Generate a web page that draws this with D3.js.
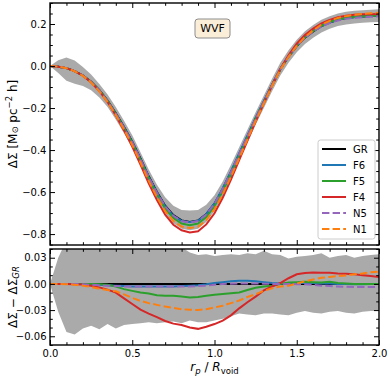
<!DOCTYPE html>
<html>
<head>
<meta charset="utf-8">
<script src="https://cdnjs.cloudflare.com/ajax/libs/d3/7.8.5/d3.min.js"></script>
<style>
  body { margin: 0; background: #fff; }
  text { font-family: "DejaVu Sans", sans-serif; fill: #000; }
</style>
</head>
<body>
<div id="chart"></div>
<script>
//============ Data =========================================
var rp = [0.00, 0.05, 0.10, 0.15, 0.20, 0.25, 0.30, 0.35, 0.40, 0.45,
          0.50, 0.55, 0.60, 0.65, 0.70, 0.75, 0.80, 0.85, 0.90, 0.95,
          1.00, 1.05, 1.10, 1.15, 1.20, 1.25, 1.30, 1.35, 1.40, 1.45,
          1.50, 1.55, 1.60, 1.65, 1.70, 1.75, 1.80, 1.85, 1.90, 1.95, 2.00];

// GR profile (top panel)
var grProfile = [0.000, -0.003, -0.010, -0.024, -0.045, -0.075, -0.115, -0.165, -0.225, -0.290,
                 -0.360, -0.440, -0.525, -0.600, -0.665, -0.710, -0.735, -0.742, -0.735, -0.705,
                 -0.655, -0.585, -0.505, -0.420, -0.335, -0.250, -0.170, -0.090, -0.015, 0.045,
                 0.095, 0.135, 0.165, 0.190, 0.207, 0.220, 0.228, 0.233, 0.236, 0.238, 0.240];

// scatter of GR profile (grey band, top panel), relative to GR
var topBandUpper = [0.000, 0.030, 0.050, 0.050, 0.040, 0.035, 0.030, 0.030, 0.030, 0.030,
                    0.030, 0.030, 0.032, 0.035, 0.040, 0.045, 0.050, 0.054, 0.050, 0.045,
                    0.040, 0.035, 0.035, 0.033, 0.032, 0.030, 0.030, 0.030, 0.030, 0.030,
                    0.030, 0.030, 0.030, 0.030, 0.030, 0.030, 0.030, 0.030, 0.030, 0.030, 0.030];
var topBandLower = [0.000, -0.030, -0.060, -0.060, -0.050, -0.040, -0.035, -0.030, -0.030, -0.030,
                    -0.030, -0.030, -0.030, -0.032, -0.035, -0.038, -0.040, -0.040, -0.040, -0.038,
                    -0.035, -0.032, -0.030, -0.030, -0.030, -0.030, -0.030, -0.030, -0.030, -0.030,
                    -0.030, -0.030, -0.030, -0.030, -0.030, -0.030, -0.030, -0.030, -0.030, -0.030, -0.030];

// scatter of the differences (grey band, bottom panel)
var botBandUpper = [0.000, 0.030, 0.050, 0.055, 0.052, 0.050, 0.052, 0.049, 0.050, 0.048,
                    0.047, 0.046, 0.045, 0.044, 0.045, 0.043, 0.042, 0.036, 0.033, 0.034,
                    0.032, 0.033, 0.034, 0.033, 0.035, 0.034, 0.038, 0.034, 0.033, 0.029,
                    0.031, 0.032, 0.033, 0.035, 0.030, 0.032, 0.033, 0.030, 0.032, 0.033, 0.034];
var botBandLower = [0.000, -0.032, -0.055, -0.058, -0.051, -0.048, -0.052, -0.046, -0.051, -0.047,
                    -0.046, -0.045, -0.044, -0.045, -0.044, -0.043, -0.045, -0.042, -0.044, -0.044,
                    -0.042, -0.040, -0.037, -0.034, -0.035, -0.036, -0.034, -0.034, -0.035, -0.036,
                    -0.033, -0.031, -0.033, -0.034, -0.032, -0.031, -0.033, -0.034, -0.032, -0.031, -0.031];

// differences with respect to GR (bottom panel)
var diffGR = [0, 0, 0, 0, 0, 0, 0, 0, 0, 0, 0, 0, 0, 0, 0, 0, 0, 0, 0, 0, 0,
              0, 0, 0, 0, 0, 0, 0, 0, 0, 0, 0, 0, 0, 0, 0, 0, 0, 0, 0, 0];
var diffF6 = [0, 0, 0, 0, 0, -0.0005, -0.001, -0.0015, -0.002, -0.0025,
              -0.003, -0.003, -0.003, -0.003, -0.003, -0.003, -0.0025, -0.002, -0.0015, -0.0005,
              0.001, 0.002, 0.003, 0.0035, 0.0035, 0.003, 0.002, 0.001, 0.0005, 0.0005,
              0.001, 0.001, 0.001, 0.0005, 0.0005, 0, 0, -0.0005, -0.0005, 0, 0];
var diffF5 = [0, 0, 0, 0, 0, 0, -0.0005, -0.001, -0.003, -0.006,
              -0.008, -0.0098, -0.011, -0.013, -0.0135, -0.0136, -0.0145, -0.0155, -0.015, -0.0136,
              -0.0125, -0.0117, -0.0108, -0.0098, -0.007, -0.0045, -0.003, -0.002, 0, 0.0015,
              0.002, 0.0025, 0.002, 0.0015, 0.0025, 0.001, 0.0005, 0, 0, 0, 0];
var diffF4 = [0, 0, 0, -0.0003, -0.0007, -0.002, -0.004, -0.0065, -0.010, -0.0165,
              -0.023, -0.0295, -0.034, -0.038, -0.0425, -0.0455, -0.047, -0.050, -0.0515, -0.049,
              -0.046, -0.042, -0.036, -0.028, -0.021, -0.0145, -0.0075, -0.003, 0.001, 0.0065,
              0.011, 0.0125, 0.013, 0.0128, 0.0128, 0.012, 0.0115, 0.011, 0.010, 0.009, 0.008];
var diffN5 = [0, 0, 0, 0, -0.0003, -0.001, -0.0015, -0.002, -0.0025, -0.003,
              -0.003, -0.003, -0.003, -0.003, -0.003, -0.003, -0.003, -0.003, -0.0025, -0.002,
              -0.001, 0, 0.0003, 0.0005, 0.0005, 0.0005, 0.0003, 0, 0, 0,
              -0.0003, -0.0005, -0.001, -0.002, -0.0025, -0.003, -0.0033, -0.0035, -0.0035, -0.0035, -0.0035];
var diffN1 = [0, 0, -0.0003, -0.001, -0.002, -0.0035, -0.0055, -0.007, -0.0085, -0.012,
              -0.016, -0.0195, -0.022, -0.024, -0.026, -0.0275, -0.029, -0.0295, -0.030, -0.029,
              -0.027, -0.025, -0.022, -0.019, -0.015, -0.0117, -0.008, -0.005, -0.003, -0.002,
              0.0005, 0.003, 0.005, 0.007, 0.008, 0.009, 0.0095, 0.011, 0.012, 0.0135, 0.014];

var modelNames = ["GR", "F6", "F5", "F4", "N5", "N1"];
var modelDiffs = [diffGR, diffF6, diffF5, diffF4, diffN5, diffN1];

// tick values
var xMajor = [0.0, 0.5, 1.0, 1.5, 2.0];
var xMinor = [0.1, 0.2, 0.3, 0.4, 0.6, 0.7, 0.8, 0.9, 1.1, 1.2, 1.3, 1.4, 1.6, 1.7, 1.8, 1.9];
var yTopMajor = [-0.8, -0.6, -0.4, -0.2, 0.0, 0.2];
var yTopMinor = [-0.85, -0.75, -0.7, -0.65, -0.55, -0.5, -0.45, -0.35, -0.3, -0.25,
                 -0.15, -0.1, -0.05, 0.05, 0.1, 0.15, 0.25, 0.3];
var yBotMajor = [-0.06, -0.03, 0.00, 0.03];
var yBotMinor = [-0.07, -0.05, -0.04, -0.02, -0.01, 0.01, 0.02, 0.04];

//============ Styles =====================
var colors = {GR: "#000000", F6: "#1f77b4", F5: "#2ca02c", F4: "#d62728", N5: "#9467bd", N1: "#ff7f0e"};
var dashes = {GR: null, F6: null, F5: null, F4: null, N5: "7.4,3.2", N1: "7.4,3.2"};

//============ Set up chart =====================
var svgWidth = 390;
var svgHeight = 379;
var xLeft = 50, xRight = 379;
var topY0 = 3, topY1 = 245;
var botY0 = 249, botY1 = 345;

var svg = d3.select("#chart")
  .append("svg")
  .attr("width", svgWidth)
  .attr("height", svgHeight);

var xScale = d3.scaleLinear().domain([0, 2]).range([xLeft, xRight]);
var yTop = d3.scaleLinear().domain([-0.852, 0.3]).range([topY1, topY0]);
var yBot = d3.scaleLinear().domain([-0.07, 0.04]).range([botY1, botY0]);

var defs = svg.append("defs");
defs.append("clipPath").attr("id", "clipTop")
  .append("rect").attr("x", xLeft).attr("y", topY0)
  .attr("width", xRight - xLeft).attr("height", topY1 - topY0);
defs.append("clipPath").attr("id", "clipBot")
  .append("rect").attr("x", xLeft).attr("y", botY0)
  .attr("width", xRight - xLeft).attr("height", botY1 - botY0);

// build rows for each panel
function rowsFor(base, diff) {
  return rp.map(function(r, i) { return {r: r, v: base[i] + diff[i]}; });
}

function drawPanel(clipId, yScale, base, bandLo, bandHi) {
  var g = svg.append("g").attr("clip-path", "url(#" + clipId + ")");

  var bandRows = rp.map(function(r, i) {
    return {r: r, lo: base[i] + bandLo[i], hi: base[i] + bandHi[i]};
  });
  g.append("path")
    .datum(bandRows)
    .attr("fill", "#aaaaaa")
    .attr("stroke", "none")
    .attr("d", d3.area()
      .x(d => xScale(d.r))
      .y0(d => yScale(d.lo))
      .y1(d => yScale(d.hi)));

  var line = d3.line().x(d => xScale(d.r)).y(d => yScale(d.v));

  modelNames.forEach(function(name, k) {
    g.append("path")
      .datum(rowsFor(base, modelDiffs[k]))
      .attr("fill", "none")
      .attr("stroke", colors[name])
      .attr("stroke-width", 2)
      .attr("stroke-dasharray", dashes[name])
      .attr("d", line);
  });
}

// top panel: profiles, bottom panel: differences with GR
drawPanel("clipTop", yTop, grProfile, topBandLower, topBandUpper);
drawPanel("clipBot", yBot, diffGR, botBandLower, botBandUpper);

//============ Axes =====================
function drawAxes(yScale, y0, y1, yMajor, yMinor, yFmt, xLabels) {
  var axes = [];
  axes.push(svg.append("g").attr("transform", `translate(${xLeft},0)`)
    .call(d3.axisLeft(yScale).tickValues(yMajor).tickSize(-5).tickPadding(3.5).tickFormat(d3.format(yFmt))));
  axes.push(svg.append("g").attr("transform", `translate(${xLeft},0)`)
    .call(d3.axisLeft(yScale).tickValues(yMinor).tickSize(-2.8).tickFormat("")));
  axes.push(svg.append("g").attr("transform", `translate(${xRight},0)`)
    .call(d3.axisRight(yScale).tickValues(yMajor).tickSize(-5).tickFormat("")));
  axes.push(svg.append("g").attr("transform", `translate(${xRight},0)`)
    .call(d3.axisRight(yScale).tickValues(yMinor).tickSize(-2.8).tickFormat("")));
  axes.push(svg.append("g").attr("transform", `translate(0,${y1})`)
    .call(d3.axisBottom(xScale).tickValues(xMajor).tickSize(-5).tickPadding(5)
      .tickFormat(xLabels ? d3.format(".1f") : "")));
  axes.push(svg.append("g").attr("transform", `translate(0,${y1})`)
    .call(d3.axisBottom(xScale).tickValues(xMinor).tickSize(-2.8).tickFormat("")));
  axes.push(svg.append("g").attr("transform", `translate(0,${y0})`)
    .call(d3.axisTop(xScale).tickValues(xMajor).tickSize(-5).tickFormat("")));
  axes.push(svg.append("g").attr("transform", `translate(0,${y0})`)
    .call(d3.axisTop(xScale).tickValues(xMinor).tickSize(-2.8).tickFormat("")));

  axes.forEach(function(a) {
    a.select(".domain").remove();
    a.selectAll("line").attr("stroke", "#000").attr("stroke-width", 1);
    a.selectAll("text").attr("font-size", 10).attr("font-family", "DejaVu Sans").attr("fill", "#000");
  });

  svg.append("rect")
    .attr("x", xLeft).attr("y", y0)
    .attr("width", xRight - xLeft).attr("height", y1 - y0)
    .attr("fill", "none").attr("stroke", "#000").attr("stroke-width", 1.4);
}

drawAxes(yTop, topY0, topY1, yTopMajor, yTopMinor, ".1f", false);
drawAxes(yBot, botY0, botY1, yBotMajor, yBotMinor, ".2f", true);

//============ Labels =====================
var topLabel = svg.append("text")
  .attr("transform", `translate(13, ${(topY0 + topY1) / 2}) rotate(-90)`)
  .attr("text-anchor", "middle")
  .attr("dominant-baseline", "central")
  .attr("font-size", 12);
topLabel.append("tspan").text("ΔΣ  [M");
topLabel.append("tspan").attr("font-size", 8.5).attr("dy", 2).text("⊙");
topLabel.append("tspan").attr("dy", -2).text(" pc");
topLabel.append("tspan").attr("font-size", 8.5).attr("dy", -4.5).text("−2");
topLabel.append("tspan").attr("dy", 4.5).text(" h]");

var botLabel = svg.append("text")
  .attr("transform", `translate(13, ${(botY0 + botY1) / 2}) rotate(-90)`)
  .attr("text-anchor", "middle")
  .attr("dominant-baseline", "central")
  .attr("font-size", 12);
botLabel.append("tspan").text("ΔΣ − ΔΣ");
botLabel.append("tspan").attr("font-size", 8.5).attr("font-style", "italic").attr("dy", 2.5).text("GR");

var xLabel = svg.append("text")
  .attr("x", (xLeft + xRight) / 2)
  .attr("y", 371)
  .attr("text-anchor", "middle")
  .attr("font-size", 12);
xLabel.append("tspan").attr("font-style", "italic").text("r");
xLabel.append("tspan").attr("font-style", "italic").attr("font-size", 8.5).attr("dy", 2.5).text("p");
xLabel.append("tspan").attr("dy", -2.5).text(" / ");
xLabel.append("tspan").attr("font-style", "italic").text("R");
xLabel.append("tspan").attr("font-size", 8.5).attr("dy", 2.5).text("void");

// WVF tag
svg.append("rect")
  .attr("x", 195).attr("y", 19).attr("width", 35).attr("height", 19).attr("rx", 3)
  .attr("fill", "#faeed9").attr("stroke", "#8c8c8c").attr("stroke-width", 1);
svg.append("text")
  .attr("x", 212.5).attr("y", 28.7)
  .attr("text-anchor", "middle").attr("dominant-baseline", "central")
  .attr("font-size", 11).text("WVF");

//============ Legend =====================
var legend = svg.append("g");
legend.append("rect")
  .attr("x", 318).attr("y", 140).attr("width", 57).attr("height", 99).attr("rx", 2.5)
  .attr("fill", "#fff").attr("fill-opacity", 0.8)
  .attr("stroke", "#cccccc").attr("stroke-width", 1);

modelNames.forEach(function(name, k) {
  var yy = 149 + 16 * k;
  legend.append("line")
    .attr("x1", 322).attr("x2", 346).attr("y1", yy).attr("y2", yy)
    .attr("stroke", colors[name]).attr("stroke-width", 2)
    .attr("stroke-dasharray", dashes[name]);
  legend.append("text")
    .attr("x", 353).attr("y", yy)
    .attr("dominant-baseline", "central")
    .attr("font-size", 10).text(name);
});
</script>
</body>
</html>
